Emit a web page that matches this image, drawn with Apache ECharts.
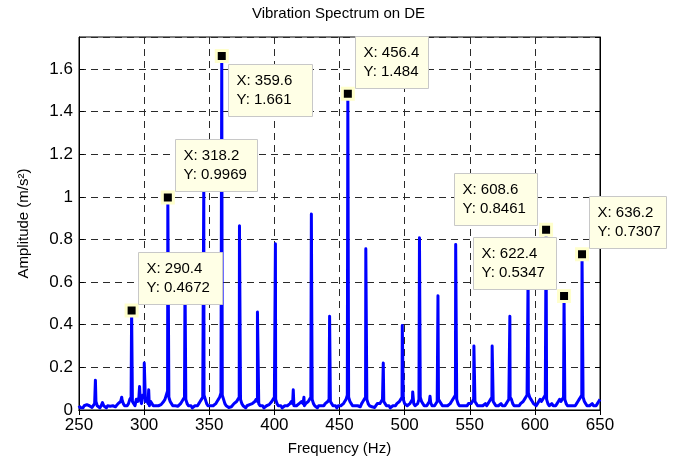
<!DOCTYPE html>
<html><head><meta charset="utf-8">
<script src="https://cdn.jsdelivr.net/npm/echarts@6/dist/echarts.min.js"></script>
<style>html,body{margin:0;padding:0;background:#fff}#c{width:677px;height:461px}</style>
</head><body><div id="c"></div>
<script>
// Noise floor of the spectrum, one value per Hz from 250 Hz to 650 Hz
const floorStartHz = 250;
const floorAmp = [
  .02,.01,.015,.01,.02,.012,.025,.03,.02,.015,
  .012,.02,.03,.04,.02,.015,.01,.02,.035,.02,
  .015,.01,.02,.012,.018,.01,.02,.025,.015,.02,
  .03,.025,.04,.05,.03,.02,.015,.02,.03,.05,
  .06,.04,.03,.02,.05,.04,.06,.05,.03,.07,
  .06,.04,.05,.03,.02,.04,.03,.02,.015,.02,
  .012,.02,.015,.025,.03,.04,.05,.07,.09,.06,
  .04,.03,.02,.015,.02,.012,.018,.02,.03,.04,
  .05,.06,.05,.03,.02,.015,.02,.01,.015,.02,
  .025,.02,.03,.04,.05,.06,.07,.05,.03,.02,
  .015,.02,.012,.02,.025,.03,.04,.05,.06,.08,
  .07,.05,.03,.02,.018,.012,.02,.015,.02,.03,
  .025,.04,.05,.06,.05,.03,.02,.015,.01,.02,
  .015,.025,.02,.03,.035,.04,.05,.04,.03,.02,
  .015,.02,.01,.012,.02,.015,.025,.03,.04,.05,
  .06,.05,.03,.02,.015,.02,.01,.015,.02,.012,
  .02,.025,.03,.04,.03,.02,.015,.02,.018,.03,
  .025,.04,.03,.02,.03,.035,.04,.05,.06,.05,
  .03,.02,.015,.01,.02,.015,.02,.025,.02,.03,
  .035,.04,.05,.04,.03,.02,.015,.02,.01,.02,
  .015,.02,.025,.03,.04,.05,.07,.06,.04,.03,
  .02,.015,.02,.012,.02,.025,.015,.03,.04,.05,
  .06,.05,.03,.02,.018,.015,.02,.012,.02,.03,
  .025,.03,.04,.05,.04,.03,.02,.015,.02,.01,
  .015,.02,.025,.02,.03,.035,.04,.05,.06,.05,
  .03,.025,.02,.015,.03,.04,.05,.03,.02,.015,
  .03,.05,.06,.04,.03,.02,.015,.02,.03,.04,
  .035,.02,.015,.02,.025,.04,.05,.04,.03,.02,
  .015,.02,.012,.02,.025,.03,.04,.05,.06,.07,
  .05,.03,.02,.015,.02,.025,.02,.015,.02,.03,
  .025,.03,.04,.05,.04,.03,.02,.015,.02,.012,
  .02,.025,.03,.02,.03,.04,.05,.06,.04,.03,
  .02,.015,.02,.025,.03,.02,.015,.02,.03,.04,
  .05,.06,.05,.03,.02,.025,.02,.015,.02,.03,
  .025,.04,.05,.06,.07,.08,.06,.05,.04,.03,
  .035,.02,.03,.04,.05,.04,.05,.06,.07,.05,
  .03,.02,.025,.03,.02,.015,.02,.03,.04,.05,
  .04,.05,.06,.05,.03,.02,.015,.02,.025,.02,
  .015,.02,.03,.04,.05,.06,.07,.06,.04,.03,
  .02,.015,.02,.025,.03,.02,.015,.02,.03,.04,
  .05
];
// Spectral peaks
const peakFreq = [262.6, 282.8, 290.4, 296.5, 300.1, 303.5, 318.2, 331.4, 345.8, 359.6,
  373.2, 387.0, 400.8, 414.5, 422.7, 428.4, 442.4, 456.4, 470.2, 483.6,
  498.2, 506.2, 511.4, 519.5, 525.6, 539.2, 553.2, 567.2, 580.8, 594.8,
  608.6, 622.4, 636.2];
const peakAmp = [0.14, 0.06, 0.4672, 0.11, 0.22, 0.095, 0.9969, 0.62, 1.05, 1.661,
  0.865, 0.46, 0.78, 0.095, 0.06, 0.92, 0.44, 1.484, 0.757, 0.22,
  0.397, 0.085, 0.808, 0.065, 0.536, 0.777, 0.30, 0.30, 0.44, 0.64,
  0.8461, 0.5347, 0.7307];
// Data tips
const tipFreq = [290.4, 318.2, 359.6, 456.4, 608.6, 622.4, 636.2];
const tipAmp = [0.4672, 0.9969, 1.661, 1.484, 0.8461, 0.5347, 0.7307];
// Box placement of each tip relative to its marker (style only)
const tipBox = [
  {dx: 6.5, dy: -58.6, w: 84}, {dx: 7, dy: -59, w: 82}, {dx: 6, dy: 8, w: 84},
  {dx: 7, dy: -58, w: 73}, {dx: -92, dy: -57, w: 83}, {dx: -91, dy: -59, w: 83},
  {dx: 7, dy: -58, w: 77}
];

const pts = [];
floorAmp.forEach((a, i) => pts.push([floorStartHz + i, a]));
peakFreq.forEach((f, i) => pts.push([f, peakAmp[i]]));
pts.sort((p, q) => p[0] - q[0]);

const FONT = "'Liberation Sans', Arial, Helvetica, sans-serif";
const chart = echarts.init(document.getElementById('c'), null, {renderer: 'canvas'});
const gridDash = {show: true, lineStyle: {color: '#2a2a2a', type: [7, 5], width: 1}};
const tickInside = {show: true, inside: true, length: 5, lineStyle: {color: '#000'}};
chart.setOption({
  animation: false,
  backgroundColor: '#fff',
  title: {text: 'Vibration Spectrum on DE', left: 'center', top: 1,
    textStyle: {fontFamily: FONT, fontSize: 15, fontWeight: 'normal', color: '#000'}},
  grid: {left: 79, right: 77, top: 37, bottom: 49, show: true, borderColor: '#000', borderWidth: 1},
  xAxis: [{type: 'value', min: 250, max: 650, interval: 50, name: 'Frequency (Hz)',
      nameLocation: 'middle', nameGap: 31,
      nameTextStyle: {fontFamily: FONT, fontSize: 15, color: '#000'},
      axisLine: {show: true, lineStyle: {color: '#000', width: 1}},
      axisTick: tickInside, splitLine: gridDash,
      axisLabel: {fontFamily: FONT, fontSize: 17, color: '#000', margin: 7}},
    {type: 'value', position: 'top', min: 250, max: 650, interval: 50,
      axisLine: {show: true, lineStyle: {color: '#000'}}, axisTick: tickInside,
      axisLabel: {show: false}, splitLine: {show: false}}],
  yAxis: [{type: 'value', min: 0, max: 1.75, interval: 0.2, name: 'Amplitude (m/s²)',
      nameLocation: 'middle', nameGap: 48,
      nameTextStyle: {fontFamily: FONT, fontSize: 15, color: '#000'},
      axisLine: {show: true, lineStyle: {color: '#000', width: 1}},
      axisTick: tickInside, splitLine: gridDash,
      axisLabel: {fontFamily: FONT, fontSize: 17, color: '#000', margin: 6, showMaxLabel: false}},
    {type: 'value', position: 'right', min: 0, max: 1.75, interval: 0.2,
      axisLine: {show: true, lineStyle: {color: '#000'}}, axisTick: tickInside,
      axisLabel: {show: false}, splitLine: {show: false}}],
  series: [
    {type: 'line', data: pts, showSymbol: false, symbol: 'none',
      lineStyle: {color: '#0000ff', width: 3, join: 'round'}, z: 2},
    {type: 'scatter', data: tipFreq.map((f, i) => [f, tipAmp[i]]), symbol: 'rect', symbolSize: 11,
      itemStyle: {color: '#000', borderColor: '#ffffcc', borderWidth: 3, opacity: 1}, z: 10}
  ]
});

const g = [];
tipFreq.forEach((f, i) => {
  const p = chart.convertToPixel({xAxisIndex: 0, yAxisIndex: 0}, [f, tipAmp[i]]);
  const b = tipBox[i];
  const L = Math.round(p[0] + b.dx) + 0.5, T = Math.round(p[1] + b.dy) + 0.5;
  g.push({type: 'rect', z: 100, shape: {x: L, y: T, width: b.w, height: 52},
    style: {fill: '#ffffe6', stroke: '#c8c8c8', lineWidth: 1}});
  g.push({type: 'text', z: 101, x: L + 8, y: T + 16,
    style: {text: 'X: ' + f, font: '15px ' + FONT, fill: '#000', textVerticalAlign: 'middle'}});
  g.push({type: 'text', z: 101, x: L + 8, y: T + 35,
    style: {text: 'Y: ' + tipAmp[i], font: '15px ' + FONT, fill: '#000', textVerticalAlign: 'middle'}});
});
chart.setOption({graphic: g});
</script></body></html>
